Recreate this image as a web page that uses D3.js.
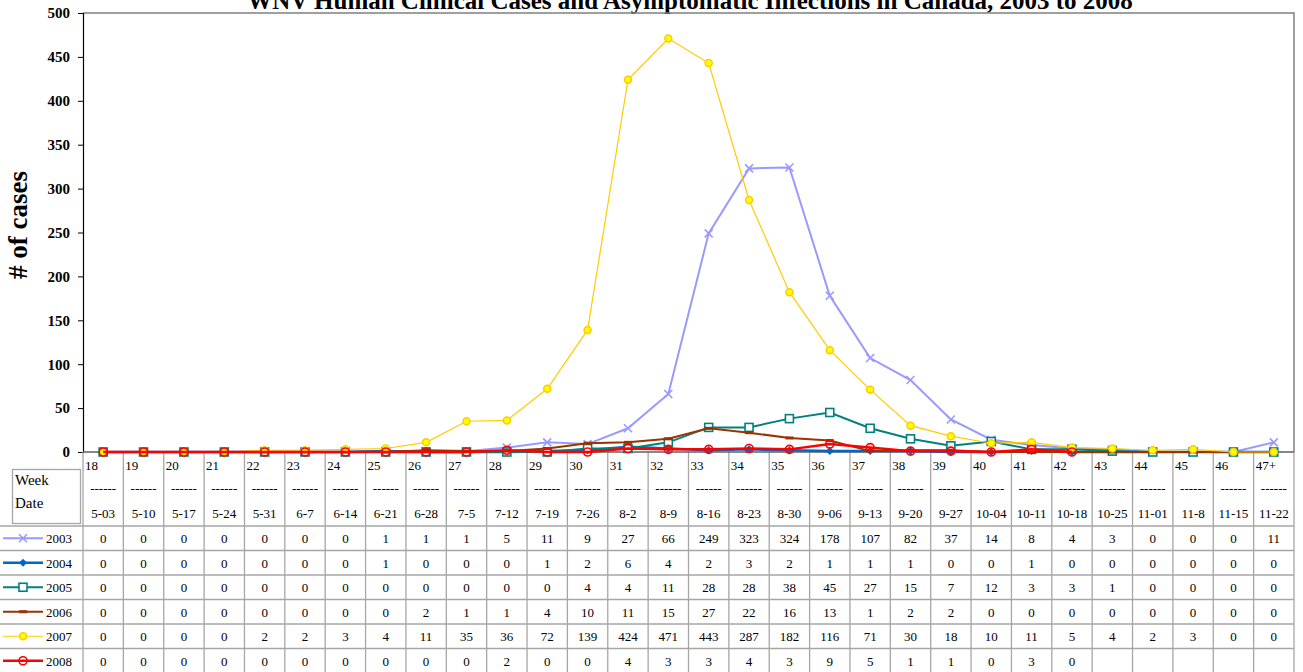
<!DOCTYPE html>
<html>
<head>
<meta charset="utf-8">
<script src="https://cdn.jsdelivr.net/npm/d3@7.9.0/dist/d3.min.js"></script>
<style>
  body { margin: 0; background: #fff; }
  svg { display: block; font-family: "Liberation Serif", "Times New Roman", serif; }
</style>
</head>
<body>
<svg id="chart" width="1303" height="672"></svg>
<script>
// data
const weeks = ['18','19','20','21','22','23','24','25','26','27','28','29','30','31','32','33','34','35','36','37','38','39','40','41','42','43','44','45','46','47+'];
const dates = ['5-03','5-10','5-17','5-24','5-31','6-7','6-14','6-21','6-28','7-5','7-12','7-19','7-26','8-2','8-9','8-16','8-23','8-30','9-06','9-13','9-20','9-27','10-04','10-11','10-18','10-25','11-01','11-8','11-15','11-22'];

const cases2003 = [0,0,0,0,0,0,0,1,1,1,5,11,9,27,66,249,323,324,178,107,82,37,14,8,4,3,0,0,0,11];
const cases2004 = [0,0,0,0,0,0,0,1,0,0,0,1,2,6,4,2,3,2,1,1,1,0,0,1,0,0,0,0,0,0];
const cases2005 = [0,0,0,0,0,0,0,0,0,0,0,0,4,4,11,28,28,38,45,27,15,7,12,3,3,1,0,0,0,0];
const cases2006 = [0,0,0,0,0,0,0,0,2,1,1,4,10,11,15,27,22,16,13,1,2,2,0,0,0,0,0,0,0,0];
const cases2007 = [0,0,0,0,2,2,3,4,11,35,36,72,139,424,471,443,287,182,116,71,30,18,10,11,5,4,2,3,0,0];
const cases2008 = [0,0,0,0,0,0,0,0,0,0,2,0,0,4,3,3,4,3,9,5,1,1,0,3,0];

const yTicks = [0,50,100,150,200,250,300,350,400,450,500];

const series = [
  { name: '2003', values: cases2003, color: '#9999ff', width: 2, marker: 'x' },
  { name: '2004', values: cases2004, color: '#0066cc', width: 2.5, marker: 'diamond' },
  { name: '2005', values: cases2005, color: '#008080', width: 2, marker: 'square' },
  { name: '2006', values: cases2006, color: '#993300', width: 2, marker: 'dash' },
  { name: '2007', values: cases2007, color: '#ffcc00', width: 1.2, marker: 'dot' },
  { name: '2008', values: cases2008, color: '#ff0000', width: 2.5, marker: 'ring' }
];

const svg = d3.select('#chart');
const plotLeft = 83, plotRight = 1294, plotTop = 13, plotBottom = 452;
const rowH = 24.5, headerBottom = 526;
const grid = '#a6a6a6';

const x = d3.scaleBand().domain(d3.range(weeks.length)).range([plotLeft, plotRight]);
const y = d3.scaleLinear().domain([0, 500]).range([plotBottom, plotTop]);
const cx = i => x(i) + x.bandwidth() / 2;

// title (partly above the window, as in the original)
svg.append('text')
  .attr('x', 690).attr('y', 9)
  .attr('text-anchor', 'middle')
  .attr('font-size', 25).attr('font-weight', 'bold')
  .text('WNV Human Clinical Cases and Asymptomatic Infections in Canada, 2003 to 2008');

// plot frame
svg.append('path')
  .attr('d', `M${plotLeft},${plotTop}H${plotRight}V${plotBottom}`)
  .attr('fill', 'none').attr('stroke', '#808080').attr('stroke-width', 1.5);

// y axis
const yAxis = svg.append('g')
  .attr('transform', `translate(${plotLeft},0)`)
  .call(d3.axisLeft(y).tickValues(yTicks).tickSize(5).tickPadding(8));
yAxis.select('.domain').attr('stroke', '#000').attr('stroke-width', 1.2);
yAxis.selectAll('.tick line').attr('stroke', '#000');
yAxis.selectAll('.tick text')
  .attr('font-family', '"Liberation Serif", serif')
  .attr('font-size', 15).attr('font-weight', 'bold').attr('fill', '#000');

svg.append('text')
  .attr('transform', 'translate(27,225) rotate(-90)')
  .attr('text-anchor', 'middle')
  .attr('font-size', 27).attr('font-weight', 'bold')
  .text('# of cases');

// table grid
const nRows = series.length;
const tableBottom = headerBottom + rowH * nRows;
const tbl = svg.append('g').attr('stroke', grid).attr('stroke-width', 1.3);
x.domain().forEach(i => {
  tbl.append('line').attr('x1', x(i)).attr('x2', x(i)).attr('y1', plotBottom).attr('y2', tableBottom);
});
tbl.append('line').attr('x1', plotRight).attr('x2', plotRight).attr('y1', plotBottom).attr('y2', tableBottom);
d3.range(nRows + 1).forEach(r => {
  const yy = headerBottom + r * rowH;
  tbl.append('line').attr('x1', 0).attr('x2', plotRight).attr('y1', yy).attr('y2', yy);
});
svg.append('rect')
  .attr('x', 12.5).attr('y', 469.5).attr('width', 68).attr('height', 54)
  .attr('fill', 'none').attr('stroke', grid).attr('stroke-width', 1.3);
svg.append('text').attr('x', 15).attr('y', 485).attr('font-size', 15).text('Week');
svg.append('text').attr('x', 15).attr('y', 508).attr('font-size', 15).text('Date');

// bottom axis line
svg.append('line')
  .attr('x1', plotLeft).attr('x2', plotRight).attr('y1', plotBottom).attr('y2', plotBottom)
  .attr('stroke', '#606060').attr('stroke-width', 1.5);

// header cells
const head = svg.append('g').attr('font-size', 13);
weeks.forEach((w, i) => {
  head.append('text').attr('x', x(i) + 2).attr('y', 470).text(w);
  head.append('text').attr('x', cx(i)).attr('y', 493).attr('text-anchor', 'middle').text('------');
  head.append('text').attr('x', cx(i)).attr('y', 518).attr('text-anchor', 'middle').text(dates[i]);
});

function drawMarker(g, s, px, py) {
  const c = s.color;
  if (s.marker === 'x') {
    g.append('path').attr('d', `M${px-4},${py-4}L${px+4},${py+4}M${px-4},${py+4}L${px+4},${py-4}`)
      .attr('stroke', c).attr('stroke-width', 1.6).attr('fill', 'none');
  } else if (s.marker === 'diamond') {
    g.append('path').attr('d', `M${px},${py-4}L${px+4},${py}L${px},${py+4}L${px-4},${py}Z`)
      .attr('fill', c);
  } else if (s.marker === 'square') {
    g.append('rect').attr('x', px - 4).attr('y', py - 4).attr('width', 8).attr('height', 8)
      .attr('fill', '#fff').attr('stroke', c).attr('stroke-width', 1.6);
  } else if (s.marker === 'dash') {
    g.append('rect').attr('x', px - 4).attr('y', py - 1.5).attr('width', 8).attr('height', 3)
      .attr('fill', c);
  } else if (s.marker === 'dot') {
    g.append('circle').attr('cx', px).attr('cy', py).attr('r', 3.5)
      .attr('fill', '#ffff00').attr('stroke', c).attr('stroke-width', 1.5);
  } else if (s.marker === 'ring') {
    g.append('circle').attr('cx', px).attr('cy', py).attr('r', 4)
      .attr('fill', 'none').attr('stroke', c).attr('stroke-width', 1.6);
  }
}

// lines and markers
const line = d3.line().x((d, i) => cx(i)).y(d => y(d));
series.forEach(s => {
  const g = svg.append('g');
  g.append('path').attr('d', line(s.values))
    .attr('fill', 'none').attr('stroke', s.color).attr('stroke-width', s.width);
  s.values.forEach((v, i) => drawMarker(g, s, cx(i), y(v)));
});

// data rows with legend keys
series.forEach((s, r) => {
  const yc = headerBottom + r * rowH + rowH / 2;
  const g = svg.append('g');
  g.append('line').attr('x1', 3).attr('x2', 43).attr('y1', yc).attr('y2', yc)
    .attr('stroke', s.color).attr('stroke-width', s.width);
  drawMarker(g, s, 23, yc);
  g.append('text').attr('x', 46).attr('y', yc + 5).attr('font-size', 13).text(s.name);
  s.values.forEach((v, i) => {
    g.append('text').attr('x', cx(i)).attr('y', yc + 5)
      .attr('text-anchor', 'middle').attr('font-size', 13).text(v);
  });
});
</script>
</body>
</html>
